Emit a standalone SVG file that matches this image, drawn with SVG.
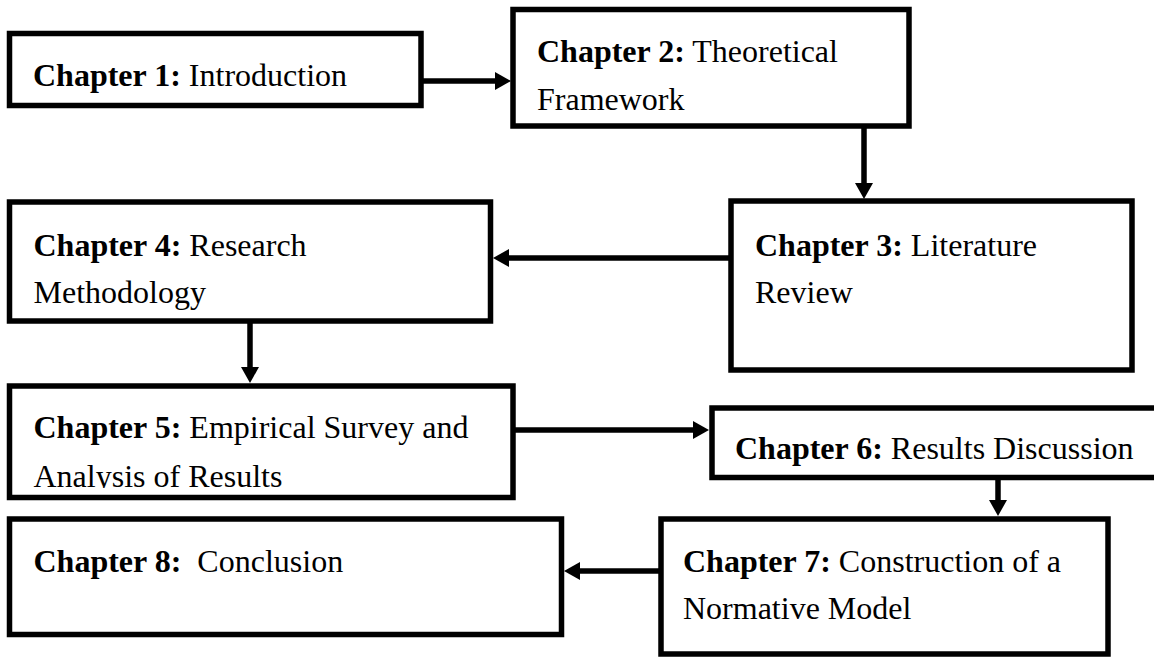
<svg xmlns="http://www.w3.org/2000/svg" width="1154" height="657" viewBox="0 0 1154 657">
  <style>
    .box { fill: #ffffff; stroke: #000000; stroke-width: 5.5; }
    .lbl { font-family: "Liberation Serif", "Times New Roman", serif; font-size: 32px; fill: #000000; white-space: pre; }
    .b { font-weight: bold; }
    .conn { stroke: #000000; stroke-width: 5.5; fill: none; }
    .head { fill: #000000; }
  </style>
  <defs>
    <clipPath id="clip-ch5">
      <rect x="10" y="386" width="503" height="102"/>
    </clipPath>
  </defs>
  <rect width="1154" height="657" fill="#ffffff"/>

  <g id="ch1">
    <rect class="box" x="9.5" y="33.5" width="411.5" height="72"/>
    <text class="lbl" x="33" y="86"><tspan class="b">Chapter 1:</tspan> Introduction</text>
  </g>

  <g id="ch2">
    <rect class="box" x="513" y="9.5" width="396" height="116.5"/>
    <text class="lbl" x="537" y="62"><tspan class="b">Chapter 2:</tspan> Theoretical</text>
    <text class="lbl" x="537" y="109.5">Framework</text>
  </g>

  <g id="ch3">
    <rect class="box" x="731" y="201" width="401" height="169"/>
    <text class="lbl" x="755" y="256"><tspan class="b">Chapter 3:</tspan> Literature</text>
    <text class="lbl" x="755" y="302.5">Review</text>
  </g>

  <g id="ch4">
    <rect class="box" x="9.5" y="202" width="481" height="119"/>
    <text class="lbl" x="33.5" y="255.5"><tspan class="b">Chapter 4:</tspan> Research</text>
    <text class="lbl" x="33.5" y="302.5">Methodology</text>
  </g>

  <g id="ch5">
    <rect class="box" x="9.5" y="386" width="503.5" height="111.5"/>
    <text class="lbl" x="33.5" y="438"><tspan class="b">Chapter 5:</tspan> Empirical Survey and</text>
    <text class="lbl" x="33.5" y="486.5" clip-path="url(#clip-ch5)">Analysis of Results</text>
  </g>

  <g id="ch6">
    <rect class="box" x="712" y="408" width="450" height="69.5"/>
    <text class="lbl" x="735" y="459"><tspan class="b">Chapter 6:</tspan> Results Discussion</text>
  </g>

  <g id="ch7">
    <rect class="box" x="661" y="519" width="447" height="135"/>
    <text class="lbl" x="683" y="571.5"><tspan class="b">Chapter 7:</tspan> Construction of a</text>
    <text class="lbl" x="683" y="619">Normative Model</text>
  </g>

  <g id="ch8">
    <rect class="box" x="9.5" y="519" width="552" height="115.5"/>
    <text class="lbl" x="33.5" y="571.5"><tspan class="b">Chapter 8:</tspan>  Conclusion</text>
  </g>

  <g id="connectors">
    <!-- 1 to 2 -->
    <line class="conn" x1="421" y1="81" x2="496" y2="81"/>
    <polygon class="head" points="495,72 511,81 495,90"/>
    <!-- 2 to 3 -->
    <line class="conn" x1="864" y1="126" x2="864" y2="184"/>
    <polygon class="head" points="855,183 864,199 873,183"/>
    <!-- 3 to 4 -->
    <line class="conn" x1="731" y1="258" x2="508" y2="258"/>
    <polygon class="head" points="509,249 493,258 509,267"/>
    <!-- 4 to 5 -->
    <line class="conn" x1="250" y1="321" x2="250" y2="368"/>
    <polygon class="head" points="241,367 250,383 259,367"/>
    <!-- 5 to 6 -->
    <line class="conn" x1="513" y1="430" x2="694" y2="430"/>
    <polygon class="head" points="693,421 709,430 693,439"/>
    <!-- 6 to 7 -->
    <line class="conn" x1="998" y1="477.5" x2="998" y2="501"/>
    <polygon class="head" points="989,500 998,516 1007,500"/>
    <!-- 7 to 8 -->
    <line class="conn" x1="661" y1="571" x2="579" y2="571"/>
    <polygon class="head" points="580,562 564,571 580,580"/>
  </g>
</svg>
